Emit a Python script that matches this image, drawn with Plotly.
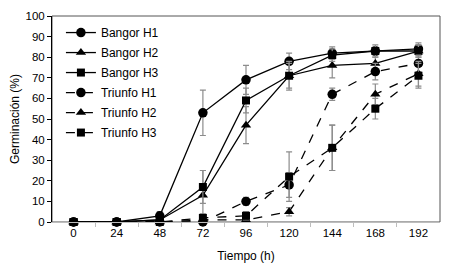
import plotly.graph_objects as go

tiempo = [0, 24, 48, 72, 96, 120, 144, 168, 192]

bangor_h1 = [0, 0, 3, 53, 69, 78, 82, 83, 84]
bangor_h2 = [0, 0, 1, 13, 47, 71, 76, 77, 83]
bangor_h3 = [0, 0, 1, 17, 59, 71, 81, 83, 83]
triunfo_h1 = [0, 0, 0, 0, 10, 18, 62, 73, 77]
triunfo_h2 = [0, 0, 0, 1, 1, 5, 36, 62, 72]
triunfo_h3 = [0, 0, 0, 2, 3, 22, 36, 55, 71]

err_bangor_h1 = [0, 0, 2, 11, 7, 4, 3, 2, 3]
err_bangor_h2 = [0, 0, 1, 12, 9, 6, 6, 3, 3]
err_bangor_h3 = [0, 0, 1, 8, 6, 7, 3, 3, 3]
err_triunfo_h1 = [0, 0, 0, 0, 2, 6, 3, 4, 4]
err_triunfo_h2 = [0, 0, 0, 1, 1, 2, 11, 5, 6]
err_triunfo_h3 = [0, 0, 0, 2, 2, 12, 11, 5, 6]

x_labels = [str(t) for t in tiempo]

series = [
    ("Bangor H1", bangor_h1, err_bangor_h1, "circle", 9.5, "solid"),
    ("Bangor H2", bangor_h2, err_bangor_h2, "triangle-up", 9, "solid"),
    ("Bangor H3", bangor_h3, err_bangor_h3, "square", 8, "solid"),
    ("Triunfo H1", triunfo_h1, err_triunfo_h1, "circle", 9.5, "dash"),
    ("Triunfo H2", triunfo_h2, err_triunfo_h2, "triangle-up", 9, "dash"),
    ("Triunfo H3", triunfo_h3, err_triunfo_h3, "square", 8, "dash"),
]

fig = go.Figure()
for name, vals, errs, sym, size, dash in series:
    fig.add_trace(go.Scatter(
        x=tiempo, y=vals, name=name, mode="lines+markers",
        legendgroup=name,
        line=dict(color="black", width=1.3, dash=dash),
        marker=dict(symbol=sym, size=size, color="black"),
        cliponaxis=False,
        error_y=dict(type="data", array=errs, visible=True,
                     color="#8c8c8c", thickness=1.2, width=3),
    ))

fig.add_shape(type="rect", xref="paper", yref="paper", x0=0, x1=1, y0=0, y1=1,
              line=dict(color="#555555", width=1), layer="below")

font = "Liberation Sans, Arial, sans-serif"
fig.update_layout(
    width=468, height=270,
    margin=dict(l=52, r=28, t=16, b=48),
    paper_bgcolor="white", plot_bgcolor="white",
    font=dict(family=font, size=12, color="black"),
    showlegend=True,
    legend=dict(x=0.023, y=0.99, xanchor="left", yanchor="top",
                bgcolor="rgba(0,0,0,0)", font=dict(size=12),
                tracegroupgap=1, itemwidth=30),
    xaxis=dict(
        range=[-12, 204], tickvals=tiempo, ticktext=x_labels,
        ticks="", showgrid=False, zeroline=False, automargin=False,
        showline=True, linecolor="#bdbdbd", linewidth=1,
        tickfont=dict(size=11.5),
        minor=dict(tickvals=[12, 36, 60, 84, 108, 132, 156, 180], ticks="outside",
                   ticklen=4, tickcolor="#bdbdbd", showgrid=False),
        title=dict(text="Tiempo (h)", font=dict(size=12), standoff=13),
    ),
    yaxis=dict(
        range=[0, 100], dtick=10, ticks="outside", ticklen=4, tickcolor="black",
        showgrid=False, zeroline=False, showline=True, linecolor="black", linewidth=1,
        automargin=False, tickfont=dict(size=11.5),
        title=dict(text="Germinación (%)", font=dict(size=12), standoff=3),
    ),
)

fig.write_html("out.html", config={"displayModeBar": False},
               post_script="document.body.style.margin='0';")
